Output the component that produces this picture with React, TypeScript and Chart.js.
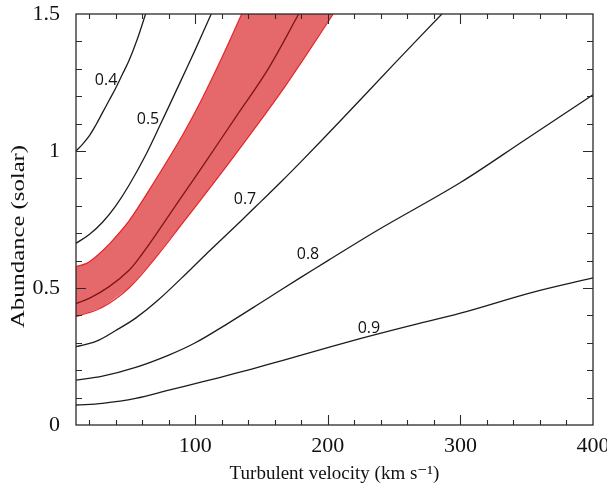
import React, { useEffect, useRef } from 'react';
import { Chart, registerables } from 'chart.js';

Chart.register(...registerables);

// ---- axis ticks ----
const velocityTicks = [100, 200, 300, 400];
const abundanceTicks = [0, 0.5, 1, 1.5];
const velocityMin = 10;
const velocityMax = 400;
const abundanceMin = 0;
const abundanceMax = 1.5;

// ---- contour curves (velocity km/s, abundance solar) ----
const curve04Velocity = [10, 15, 20, 25, 30, 35, 40, 45, 50, 56, 62.5];
const curve04Abundance = [1.0, 1.025, 1.055, 1.095, 1.14, 1.185, 1.23, 1.28, 1.33, 1.405, 1.5];

const curve05Velocity = [10, 20, 30, 40, 50, 62, 73, 88, 100, 112];
const curve05Abundance = [0.663, 0.695, 0.74, 0.8, 0.875, 0.98, 1.09, 1.245, 1.37, 1.5];

const curve06Velocity = [10, 20, 35, 50, 60, 71, 90, 107, 130, 155, 178];
const curve06Abundance = [0.444, 0.462, 0.505, 0.565, 0.625, 0.7, 0.835, 0.955, 1.12, 1.3, 1.5];

const curve07Velocity = [10, 25, 40, 55, 72, 96, 111, 136, 150, 164, 180, 210, 250, 286];
const curve07Abundance = [0.286, 0.305, 0.345, 0.39, 0.456, 0.566, 0.637, 0.752, 0.818, 0.884, 0.962, 1.113, 1.318, 1.5];

const curve08Velocity = [10, 30, 55, 80, 100, 125, 150, 179, 200, 240, 300, 350, 400];
const curve08Abundance = [0.164, 0.178, 0.21, 0.255, 0.3, 0.372, 0.448, 0.537, 0.6, 0.718, 0.885, 1.045, 1.205];

const curve09Velocity = [10, 30, 55, 80, 105, 130, 155, 180, 225, 260, 300, 355, 400];
const curve09Abundance = [0.073, 0.079, 0.097, 0.127, 0.157, 0.188, 0.221, 0.255, 0.316, 0.36, 0.408, 0.485, 0.537];

// ---- shaded band (0.6 uncertainty) ----
const bandUpperVelocity = [10, 18, 25, 35, 50, 70, 90, 105, 120, 135];
const bandUpperAbundance = [0.578, 0.59, 0.614, 0.66, 0.745, 0.895, 1.055, 1.19, 1.34, 1.5];
const bandLowerVelocity = [10, 30, 50, 70, 91, 111, 126, 149, 164, 185, 204];
const bandLowerAbundance = [0.395, 0.43, 0.5, 0.61, 0.74, 0.865, 0.96, 1.11, 1.21, 1.36, 1.5];

// ---- contour labels ----
const contourLabels = ['0.4', '0.5', '0.7', '0.8', '0.9'];
const labelVelocity = [32.7, 64.3, 137.5, 185, 231];
const labelAbundance = [1.259, 1.117, 0.825, 0.624, 0.354];

// minor tick spacing
const velocityMinorStep = 20;
const abundanceMinorStep = 0.1;

const TENSION = 0.35;

const toPoints = (xs: number[], ys: number[]) => xs.map((x, i) => ({ x, y: ys[i] }));

const SERIF = '"Liberation Serif", "Times New Roman", "DejaVu Serif", serif';

const framePlugin = {
  id: 'frameTicks',
  afterDatasetsDraw(chart: any) {
    const { ctx, chartArea, scales } = chart;
    const { left, right, top, bottom } = chartArea;
    const x = scales.x;
    const y = scales.y;
    ctx.save();
    ctx.strokeStyle = '#2a2a2a';
    ctx.lineWidth = 1.3;
    ctx.strokeRect(left, top, right - left, bottom - top);
    ctx.lineWidth = 1.1;
    ctx.beginPath();
    for (let v = velocityMinorStep; v < velocityMax; v += velocityMinorStep) {
      if (v <= velocityMin) continue;
      const px = Math.round(x.getPixelForValue(v)) + 0.5;
      const len = v % 100 === 0 ? 10 : 5;
      ctx.moveTo(px, bottom);
      ctx.lineTo(px, bottom - len);
      ctx.moveTo(px, top);
      ctx.lineTo(px, top + len);
    }
    const nY = Math.round((abundanceMax - abundanceMin) / abundanceMinorStep);
    for (let k = 1; k < nY; k++) {
      const v = abundanceMin + k * abundanceMinorStep;
      const py = Math.round(y.getPixelForValue(v)) + 0.5;
      const len = k % 5 === 0 ? 10 : 6;
      ctx.moveTo(left, py);
      ctx.lineTo(left + len, py);
      ctx.moveTo(right, py);
      ctx.lineTo(right - len, py);
    }
    ctx.stroke();

    // contour labels
    ctx.font = '16px "Open Sans", "Noto Sans", sans-serif';
    ctx.fillStyle = '#111';
    ctx.textAlign = 'center';
    ctx.textBaseline = 'middle';
    contourLabels.forEach((t, i) => {
      ctx.fillText(t, x.getPixelForValue(labelVelocity[i]), y.getPixelForValue(labelAbundance[i]));
    });

    // y axis title (stretched along its length, as in the source figure)
    ctx.save();
    ctx.translate(19, (top + bottom) / 2 + 17);
    ctx.rotate(-Math.PI / 2);
    ctx.scale(1.3, 1);
    ctx.font = `19px ${SERIF}`;
    ctx.fillStyle = '#111';
    ctx.textAlign = 'center';
    ctx.textBaseline = 'middle';
    ctx.fillText('Abundance (solar)', 0, 0);
    ctx.restore();

    ctx.restore();
  },
};

const blackLine = (label: string, xs: number[], ys: number[]) => ({
  label,
  data: toPoints(xs, ys),
  borderColor: '#1c1c1c',
  borderWidth: 1.3,
  pointRadius: 0,
  fill: false,
  tension: TENSION,
  order: 1,
});

export default function App() {
  const canvasRef = useRef<HTMLCanvasElement | null>(null);

  useEffect(() => {
    const canvas = canvasRef.current;
    if (!canvas) return;

    const bandPolygon = [
      ...toPoints(bandUpperVelocity, bandUpperAbundance),
      ...toPoints(bandLowerVelocity, bandLowerAbundance).reverse(),
    ];

    const chart = new Chart(canvas, {
      type: 'line',
      data: {
        datasets: [
          {
            label: 'band',
            data: bandPolygon,
            borderColor: 'rgba(0,0,0,0)',
            borderWidth: 0,
            backgroundColor: '#E5686A',
            pointRadius: 0,
            tension: 0,
            fill: 'shape',
            order: 10,
          },
          {
            label: 'band upper',
            data: toPoints(bandUpperVelocity, bandUpperAbundance),
            borderColor: '#E5262C',
            borderWidth: 1.2,
            pointRadius: 0,
            fill: false,
            tension: TENSION,
            order: 5,
          },
          {
            label: 'band lower',
            data: toPoints(bandLowerVelocity, bandLowerAbundance),
            borderColor: '#E5262C',
            borderWidth: 1.2,
            pointRadius: 0,
            fill: false,
            tension: TENSION,
            order: 5,
          },
          {
            label: '0.6',
            data: toPoints(curve06Velocity, curve06Abundance),
            borderColor: '#7E1616',
            borderWidth: 1.3,
            pointRadius: 0,
            fill: false,
            tension: TENSION,
            order: 4,
          },
          blackLine('0.4', curve04Velocity, curve04Abundance),
          blackLine('0.5', curve05Velocity, curve05Abundance),
          blackLine('0.7', curve07Velocity, curve07Abundance),
          blackLine('0.8', curve08Velocity, curve08Abundance),
          blackLine('0.9', curve09Velocity, curve09Abundance),
        ] as any,
      },
      options: {
        animation: false,
        responsive: false,
        devicePixelRatio: 1,
        layout: { padding: { top: 14, right: 14, left: 0, bottom: 0 } },
        plugins: {
          legend: { display: false },
          tooltip: { enabled: false },
        },
        scales: {
          x: {
            type: 'linear',
            min: velocityMin,
            max: velocityMax,
            grid: { display: false, drawTicks: false },
            border: { display: false },
            afterBuildTicks: (scale: any) => {
              scale.ticks = velocityTicks.map((v) => ({ value: v }));
            },
            afterFit: (scale: any) => {
              scale.height = 63;
              scale.paddingLeft = 0;
              scale.paddingRight = 0;
            },
            ticks: {
              padding: 8,
              color: '#111',
              maxRotation: 0,
              autoSkip: false,
              font: { family: SERIF, size: 22 },
              callback: (v: any) => String(v),
            },
            title: {
              display: true,
              text: 'Turbulent velocity (km s\u207B\u00B9)',
              color: '#111',
              font: { family: SERIF, size: 19 },
              padding: { top: 0, bottom: 3 },
            },
          },
          y: {
            type: 'linear',
            min: abundanceMin,
            max: abundanceMax,
            grid: { display: false, drawTicks: false },
            border: { display: false },
            afterBuildTicks: (scale: any) => {
              scale.ticks = abundanceTicks.map((v) => ({ value: v }));
            },
            afterFit: (scale: any) => {
              scale.width = 76;
              scale.paddingTop = 0;
              scale.paddingBottom = 0;
            },
            ticks: {
              padding: 16,
              color: '#111',
              autoSkip: false,
              font: { family: SERIF, size: 22 },
              callback: (v: any) => String(v),
            },
          },
        },
      },
      plugins: [framePlugin],
    } as any);

    return () => chart.destroy();
  }, []);

  return (
    <div style={{ position: 'absolute', left: 0, top: 0, width: 607, height: 488, background: '#fff' }}>
      <canvas ref={canvasRef} width={607} height={488} style={{ display: 'block' }} />
    </div>
  );
}
